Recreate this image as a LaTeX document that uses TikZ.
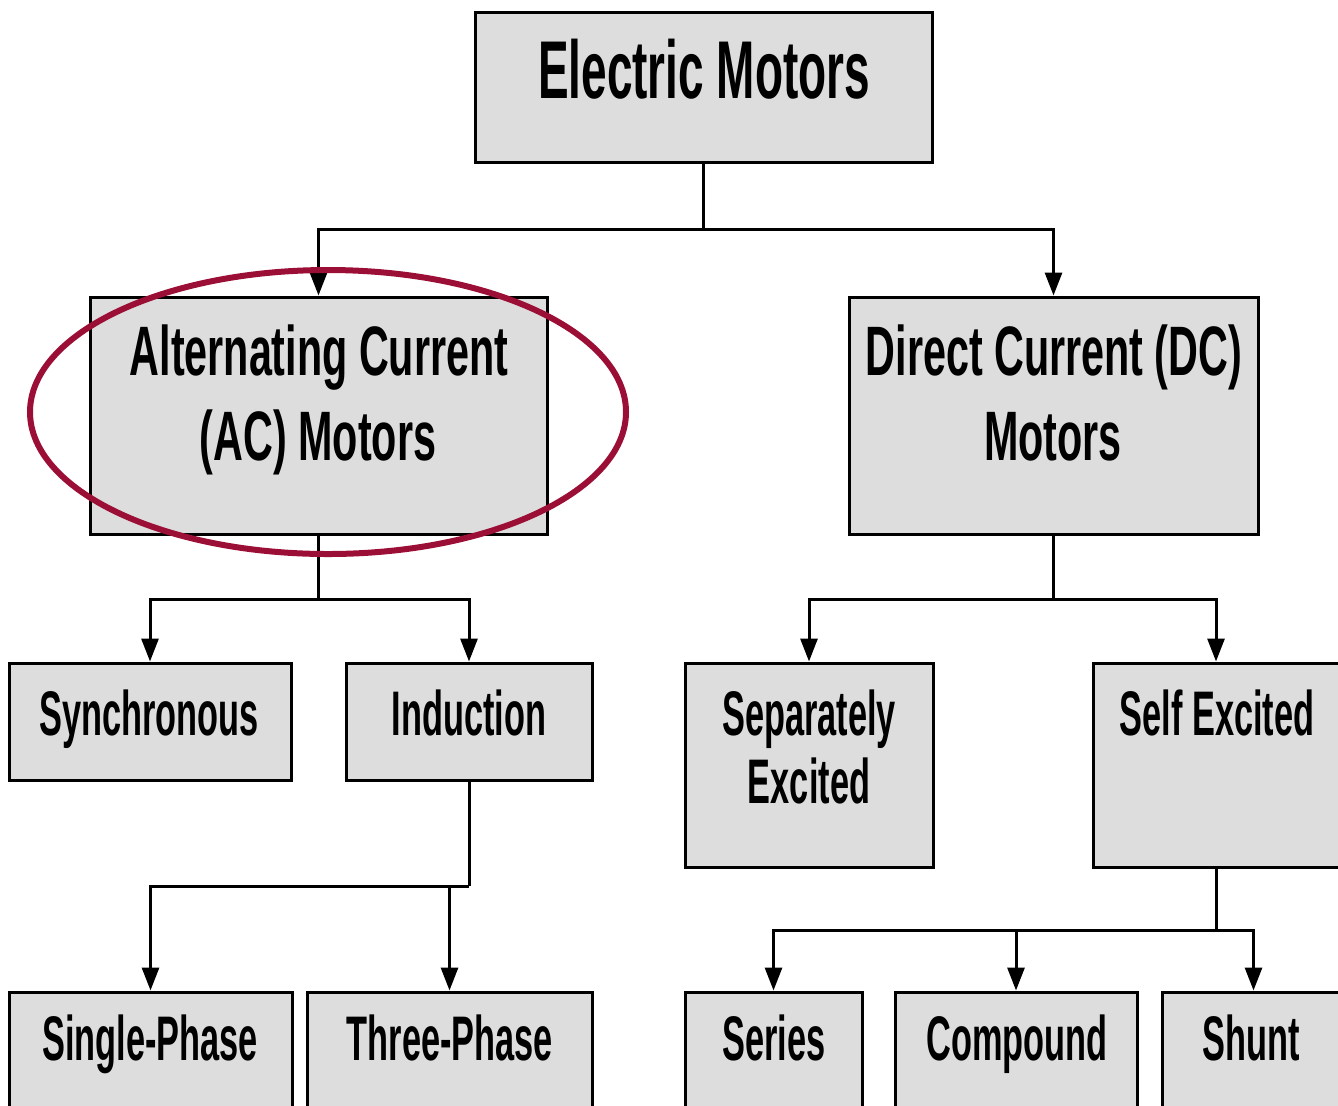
\documentclass[tikz,border=0pt]{standalone}
\usepackage{fontspec}
\newfontfamily\fontA{Liberation Sans}[FakeStretch=0.56]
\newfontfamily\fontB{Liberation Sans}[FakeStretch=0.59]
\newfontfamily\fontC{Liberation Sans}[FakeStretch=0.545]
\usetikzlibrary{arrows.meta}
\definecolor{boxfill}{RGB}{221,221,221}
\definecolor{ringred}{RGB}{155,15,55}
\tikzset{
  box/.style={draw=black, fill=boxfill, line width=1.5pt, rectangle, inner sep=0pt},
  lbl/.style={anchor=base, inner sep=0pt},
  tA/.style={lbl, font=\fontA\bfseries\fontsize{41}{45}\selectfont},
  tB/.style={lbl, font=\fontB\bfseries\fontsize{35}{40}\selectfont},
  tC/.style={lbl, font=\fontC\bfseries\fontsize{31.5}{36}\selectfont},
  line/.style={draw=black, line width=1.5pt},
  arr/.style={line, -{Triangle[length=11.5pt,width=8.5pt]}},
  ring/.style={draw=ringred, line width=3pt},
}
\begin{document}
\begin{tikzpicture}[x=0.5pt, y=-0.5pt]
\useasboundingbox (0,0) rectangle (1338,1105);
\clip (0,0) rectangle (1338,1105);
% boxes
\node[box, minimum width=228.5pt, minimum height=75pt] (em) at (703.5,87) {};
\node[box, minimum width=228.5pt, minimum height=118.5pt] (ac) at (318.5,415.5) {};
\node[box, minimum width=204.5pt, minimum height=118.5pt] (dc) at (1053.5,415.5) {};
\node[box, minimum width=141pt, minimum height=58.5pt] (syn) at (150,721.5) {};
\node[box, minimum width=123pt, minimum height=58.5pt] (ind) at (469,721.5) {};
\node[box, minimum width=124pt, minimum height=102pt] (sep) at (809,765) {};
\node[box, minimum width=126pt, minimum height=102pt] (self) at (1219,765) {};
\node[box, minimum width=141.5pt, minimum height=62pt] (sp) at (150.5,1054) {};
\node[box, minimum width=142.5pt, minimum height=62pt] (tp) at (449.5,1054) {};
\node[box, minimum width=88.5pt, minimum height=62pt] (ser) at (773.5,1054) {};
\node[box, minimum width=121pt, minimum height=62pt] (comp) at (1016,1054) {};
\node[box, minimum width=91.5pt, minimum height=62pt] (shu) at (1253.5,1054) {};
% labels
\node[tA] (emt) at (704,98) {Electric Motors};
\node[tB] (act1) at (319,375) {Alternating Current};
\node[tB] (act2) at (318,460) {(AC) Motors};
\node[tB] (dct1) at (1054,375) {Direct Current (DC)};
\node[tB] (dct2) at (1053,460) {Motors};
\node[tC] (synt) at (149,735) {Synchronous};
\node[tC] (indt) at (469,735) {Induction};
\node[tC] (sept1) at (809,735) {Separately};
\node[tC] (sept2) at (809,803) {Excited};
\node[tC] (selft) at (1217,735) {Self Excited};
\node[tC] (spt) at (150,1060) {Single-Phase};
\node[tC] (tpt) at (450,1060) {Three-Phase};
\node[tC] (sert) at (774,1060) {Series};
\node[tC] (compt) at (1017,1060) {Compound};
\node[tC] (shut) at (1251,1060) {Shunt};
% connectors
\coordinate (j1) at (703.5,229);
\draw[line] (em.south) -- (j1);
\draw[arr] (j1) -| (ac.north);
\draw[arr] (j1) -| (dc.north);
\coordinate (j2) at (318.5,599);
\draw[line] (ac.south) -- (j2);
\draw[arr] (j2) -| (syn.north);
\draw[arr] (j2) -| (ind.north);
\coordinate (j3) at (1053.5,599);
\draw[line] (dc.south) -- (j3);
\draw[arr] (j3) -| (sep.north);
\coordinate (j3b) at (1216,599);
\draw[arr] (j3) -- (j3b) -- (j3b |- self.north);
\coordinate (j4) at (469,886);
\draw[line] (ind.south) -- (j4);
\draw[arr] (j4) -| (sp.north);
\draw[arr] (j4 -| tp.north) -- (tp.north);
\coordinate (j5top) at (1216,867);
\coordinate (j5) at (1216,930);
\draw[line] (j5top) -- (j5);
\draw[arr] (j5) -| (ser.north);
\draw[arr] (j5) -| (shu.north);
\draw[arr] (j5 -| comp.north) -- (comp.north);
% highlight ring
\draw[ring] (328,412) ellipse [x radius=298, y radius=142];
\end{tikzpicture}
\end{document}
